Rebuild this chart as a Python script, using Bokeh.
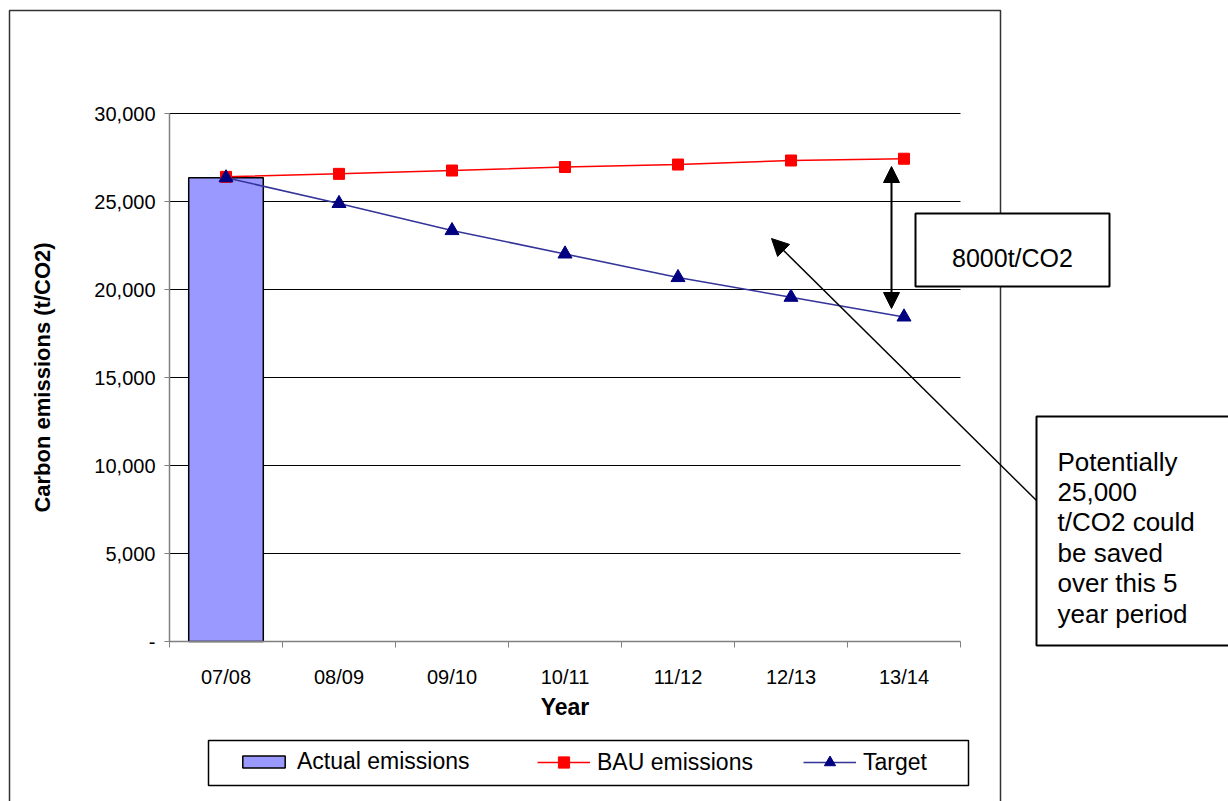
from bokeh.plotting import figure
from bokeh.models import (Range1d, FixedTicker, BoxAnnotation, Label, Arrow,
                          NormalHead, Legend, LegendItem)
from bokeh.embed import file_html
from bokeh.resources import INLINE

# ---- data ----
years = ["07/08", "08/09", "09/10", "10/11", "11/12", "12/13", "13/14"]
actual = [26350]
bau = [26400, 26570, 26760, 26960, 27100, 27330, 27430]
target = [26350, 24890, 23350, 22020, 20680, 19560, 18440]
y_ticks = [0, 5000, 10000, 15000, 20000, 25000, 30000]
y_tick_labels = ["-", "5,000", "10,000", "15,000", "20,000", "25,000", "30,000"]

FONT = "Liberation Sans"
W, H = 1228, 801
PX0, PX1 = 169, 960   # pixel position of x data 0 .. NX
PY0, PY1 = 641, 113   # pixel position of y data 0 .. YMAX
NX = len(years)
YMAX = 30000
SX = (PX1 - PX0) / NX          # px per category
YPP = YMAX / (PY0 - PY1)       # data per px


def dx(px):
    return (px - PX0) / SX


def dy(py):
    return (PY0 - py) * YPP


xs = [i + 0.5 for i in range(NX)]

p = figure(width=W, height=H, output_backend="svg", toolbar_location=None,
           x_range=Range1d(dx(0), dx(W)), y_range=Range1d(dy(H), dy(0)),
           min_border=0)
p.outline_line_color = None
p.background_fill_color = "white"
p.border_fill_color = "white"

# grid (only inside the plot area)
p.xgrid.grid_line_color = None
p.ygrid.grid_line_color = None
p.segment(x0=[0] * len(y_ticks[1:]), x1=[NX] * len(y_ticks[1:]),
          y0=y_ticks[1:], y1=y_ticks[1:], line_color="black", line_width=1)

# y axis
p.yaxis.fixed_location = 0
p.yaxis.bounds = (0, YMAX)
p.yaxis.ticker = FixedTicker(ticks=y_ticks)
p.yaxis.major_label_overrides = {t: l for t, l in zip(y_ticks, y_tick_labels)}
p.yaxis.axis_line_color = "#808080"
p.yaxis.axis_line_width = 1.5
p.yaxis.major_tick_line_color = "#808080"
p.yaxis.major_tick_in = 0
p.yaxis.major_tick_out = 5
p.yaxis.minor_tick_line_color = None
p.yaxis.major_label_standoff = 9
p.yaxis.major_label_text_font = FONT
p.yaxis.major_label_text_font_size = "20px"
p.yaxis.major_label_text_color = "black"
p.yaxis.axis_label = "Carbon emissions (t/CO2)"
p.yaxis.axis_label_text_font = FONT
p.yaxis.axis_label_text_font_size = "22px"
p.yaxis.axis_label_text_font_style = "bold"
p.yaxis.axis_label_text_color = "black"
p.yaxis.axis_label_standoff = 36

# x axis
p.xaxis.fixed_location = 0
p.xaxis.bounds = (0, NX)
p.xaxis.ticker = FixedTicker(ticks=xs, minor_ticks=list(range(NX + 1)))
p.xaxis.major_label_overrides = {x: y for x, y in zip(xs, years)}
p.xaxis.axis_line_color = "#808080"
p.xaxis.axis_line_width = 1.5
p.xaxis.major_tick_line_color = None
p.xaxis.major_tick_in = 0
p.xaxis.major_tick_out = 0
p.xaxis.minor_tick_line_color = "#808080"
p.xaxis.minor_tick_in = 0
p.xaxis.minor_tick_out = 6
p.xaxis.major_label_standoff = 18
p.xaxis.major_label_text_font = FONT
p.xaxis.major_label_text_font_size = "20px"
p.xaxis.major_label_text_color = "black"
p.xaxis.axis_label = "Year"
p.xaxis.axis_label_text_font = FONT
p.xaxis.axis_label_text_font_size = "23px"
p.xaxis.axis_label_text_font_style = "bold"
p.xaxis.axis_label_text_color = "black"
p.xaxis.axis_label_standoff = 3

# outer chart border
p.add_layout(BoxAnnotation(left=dx(9), right=dx(1000), top=dy(10), bottom=dy(900),
                           fill_color=None, line_color="#333333", line_alpha=1,
                           line_width=1.5, level="underlay"))

# series
r_bar = p.vbar(x=xs[:len(actual)], top=actual, width=0.66, bottom=0,
               fill_color="#9999FF", line_color="black", line_width=1.5)
r_bau_l = p.line(xs, bau, line_color="#FF0000", line_width=1.5)
r_bau_m = p.scatter(xs, bau, marker="square", size=11,
                    fill_color="#FF0000", line_color="#FF0000")
r_tg_l = p.line(xs, target, line_color="#333399", line_width=1.5)
r_tg_m = p.scatter(xs, target, marker="triangle", size=14,
                   fill_color="#000080", line_color="#000080")

# legend frame
p.add_layout(BoxAnnotation(left=dx(208), right=dx(968), top=dy(740), bottom=dy(785),
                           fill_color="white", fill_alpha=1, line_color="black",
                           line_alpha=1, line_width=1.5))
legend_style = dict(orientation="horizontal", border_line_color=None,
                    background_fill_alpha=0, padding=0, glyph_width=53,
                    label_standoff=7, label_text_font=FONT,
                    label_text_font_size="23px", label_text_color="black")
legend1 = Legend(items=[LegendItem(label="Actual emissions", renderers=[r_bar])],
                 location=(237, 26), glyph_height=15, label_height=25,
                 spacing=0, **legend_style)
legend2 = Legend(items=[LegendItem(label="BAU emissions", renderers=[r_bau_l, r_bau_m]),
                        LegendItem(label="Target", renderers=[r_tg_l, r_tg_m])],
                 location=(537, 25), glyph_height=28, label_height=28,
                 spacing=50, **legend_style)
p.add_layout(legend1)
p.add_layout(legend2)

# double arrow (8000 t/CO2 gap)
p.add_layout(Arrow(x_start=dx(891), y_start=dy(308), x_end=dx(891), y_end=dy(166),
                   line_color="black", line_width=2,
                   start=NormalHead(size=16, fill_color="black", line_color="black"),
                   end=NormalHead(size=16, fill_color="black", line_color="black")))

# long arrow
p.add_layout(Arrow(x_start=dx(1036), y_start=dy(500), x_end=dx(771), y_end=dy(238),
                   line_color="black", line_width=1.5,
                   end=NormalHead(size=17, fill_color="black", line_color="black")))

# 8000t/CO2 box
p.add_layout(BoxAnnotation(left=dx(915), right=dx(1109), top=dy(213), bottom=dy(286),
                           fill_color="white", fill_alpha=1, line_color="black",
                           line_alpha=1, line_width=2))
p.add_layout(Label(x=dx(1012), y=dy(257), text="8000t/CO2", text_align="center",
                   text_baseline="alphabetic", text_font=FONT,
                   text_font_size="25px", text_color="black"))

# explanation box
p.add_layout(BoxAnnotation(left=dx(1036), right=dx(1270), top=dy(416), bottom=dy(645),
                           fill_color="white", fill_alpha=1, line_color="black",
                           line_alpha=1, line_width=2))
note_lines = ["Potentially", "25,000", "t/CO2 could", "be saved",
              "over this 5", "year period"]
for i, t in enumerate(note_lines):
    p.add_layout(Label(x=dx(1057), y=dy(461 + i * 30.4), text=t, text_align="left",
                       text_baseline="alphabetic", text_font=FONT,
                       text_font_size="26px", text_color="black"))

open("out.html", "w").write(file_html(p, INLINE))
